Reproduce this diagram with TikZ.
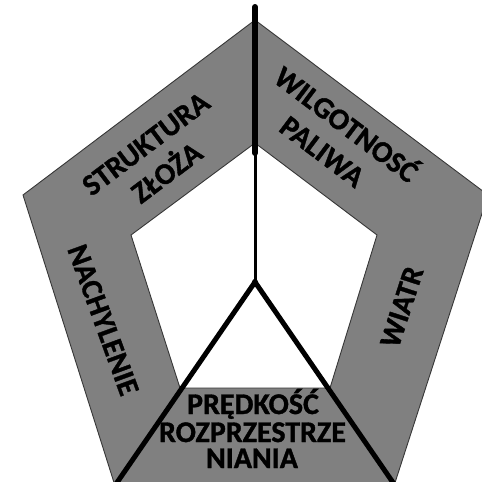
\documentclass[tikz,border=0pt]{standalone}
\usepackage{fontspec}
\setmainfont[BoldFeatures={FakeBold=1.2}]{Carlito}
\tikzset{
  ring/.style={fill={rgb,255:red,128;green,128;blue,128}, draw={rgb,255:red,55;green,55;blue,55}, line width=0.9pt, even odd rule},
  lbl/.style={font=\fontsize{30}{30}\selectfont\bfseries, text=black, inner sep=0pt, text height=19pt, text depth=0pt},
  thickaxis/.style={draw=black, line width=6pt, line cap=round},
  thinaxis/.style={draw=black, line width=3pt},
  legline/.style={draw=black, line width=5pt}
}
\begin{document}
\begin{tikzpicture}[x=1pt,y=-1pt]
\useasboundingbox (0,0) rectangle (482,482);
\clip (0,0) rectangle (482,482);
% ring
\path[ring] (255,20) -- (488,195) -- (392,492) -- (117,492) -- (23,195) -- cycle
            (255,143) -- (377,235) -- (330,388) -- (180,388) -- (131,235) -- cycle;
% axis points
\coordinate (top) at (255,7);
\coordinate (mid) at (255,153);
\coordinate (ctr) at (255,282);
\coordinate (bl) at (116,484);
\coordinate (br) at (394,484);
\draw[thickaxis] (top) -- (mid);
\draw[thinaxis] (mid) -- (ctr);
\draw[legline] (bl) -- (ctr) -- (br);
\fill[black] (ctr) circle (3pt);
% labels
\node[lbl, rotate=37] (struk) at (146,144) {STRUKTURA};
\node[lbl, rotate=37] (zloza) at (167,173) {ZŁOŻA};
\node[lbl, rotate=-37] (wilg) at (346,125) {WILGOTNOSĆ};
\node[lbl, rotate=-37] (pal) at (322,152) {PALIWA};
\node[lbl, rotate=-70] (nach) at (103,320) {NACHYLENIE};
\node[lbl, rotate=72] (wiatr) at (402,307) {WIATR};
\node[lbl, anchor=base] (pr1) at (253,414) {PRĘDKOŚĆ};
\node[lbl, anchor=base] (pr2) at (252.5,442) {ROZPRZESTRZE};
\node[lbl, anchor=base] (pr3) at (252,468) {NIANIA};
\end{tikzpicture}
\end{document}
